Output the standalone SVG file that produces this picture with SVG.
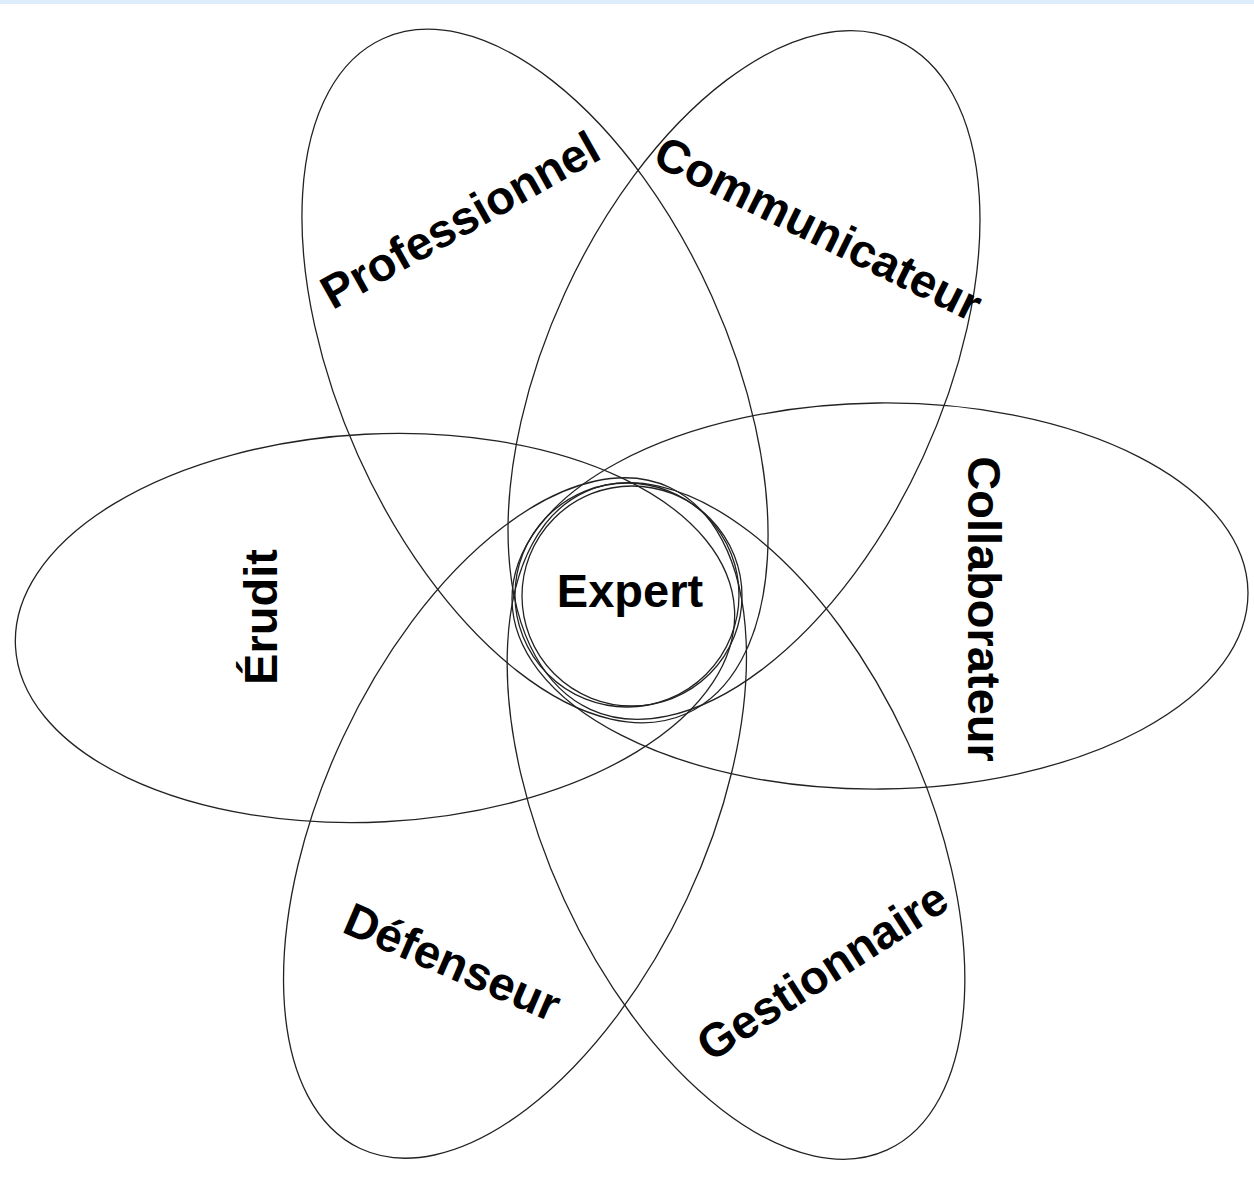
<svg xmlns="http://www.w3.org/2000/svg" width="1254" height="1177" viewBox="0 0 1254 1177">
<style>
.shape{fill:none;stroke:#222;stroke-width:1.3}
.lbl{font-family:"Liberation Sans",Arial,sans-serif;font-weight:bold;font-size:47px;fill:#000;text-anchor:middle}
</style>
<rect x="0" y="0" width="1254" height="1177" fill="#fff"/>
<rect x="0" y="0" width="1254" height="4" fill="#ddedfc"/>
<g id="professionnel">
<ellipse class="shape" cx="535" cy="376" rx="370" ry="194" transform="rotate(65.8 535 376)"/>
<text class="lbl" transform="translate(468 234) rotate(-29.4)">Professionnel</text>
</g>
<g id="communicateur">
<ellipse class="shape" cx="744" cy="375" rx="368" ry="197" transform="rotate(-65.3 744 375)"/>
<text class="lbl" transform="translate(811 243) rotate(26.3)">Communicateur</text>
</g>
<g id="erudit">
<ellipse class="shape" cx="375" cy="628" rx="360" ry="194" transform="rotate(-2.9 375 628)"/>
<text class="lbl" transform="translate(277 617) rotate(-90)">Érudit</text>
</g>
<g id="collaborateur">
<ellipse class="shape" cx="880" cy="596" rx="368" ry="193" transform="rotate(-0.6 880 596)"/>
<text class="lbl" transform="translate(968 609) rotate(90)">Collaborateur</text>
</g>
<g id="defenseur">
<ellipse class="shape" cx="515" cy="818" rx="365" ry="190" transform="rotate(-64.9 515 818)"/>
<text class="lbl" transform="translate(446 977) rotate(23.3)">Défenseur</text>
</g>
<g id="gestionnaire">
<ellipse class="shape" cx="736" cy="821" rx="362" ry="189" transform="rotate(65.3 736 821)"/>
<text class="lbl" transform="translate(831 985) rotate(-32.8)">Gestionnaire</text>
</g>
<g id="expert">
<circle class="shape" cx="627" cy="595" r="112"/>
<circle class="shape" cx="632" cy="596" r="110"/>
<text class="lbl" x="630" y="607">Expert</text>
</g>
</svg>
